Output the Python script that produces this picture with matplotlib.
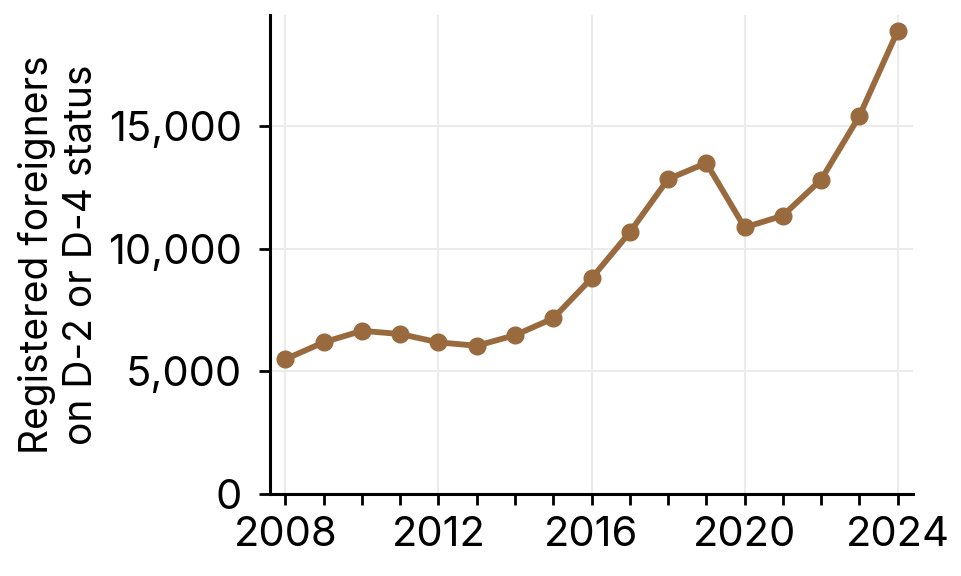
import matplotlib.pyplot as plt
from matplotlib.ticker import FuncFormatter, MultipleLocator

years = list(range(2008, 2025))
foreigners = [5500, 6190, 6660, 6530, 6190, 6050, 6480, 7170, 8800,
              10680, 12850, 13510, 10880, 11360, 12830, 15430, 18900]

x_ticks = [2008, 2012, 2016, 2020, 2024]
y_ticks = [0, 5000, 10000, 15000]

plt.rcParams['font.family'] = ['Inter', 'DejaVu Sans']

fig = plt.figure(figsize=(9.62, 5.76), dpi=100)
ax = fig.add_axes([270/962, 1 - 494/576, (913-270)/962, (494-15)/576])

ax.plot(years, foreigners, color='#996a3d', linewidth=4.2, marker='o',
        markersize=12, zorder=3)

ax.set_xlim(2007.6, 2024.4)
ax.set_ylim(0, 19550)
ax.set_xticks(x_ticks)
ax.xaxis.set_minor_locator(MultipleLocator(1))
ax.set_yticks(y_ticks)
ax.yaxis.set_major_formatter(FuncFormatter(lambda v, p: f"{int(v):,}"))

ax.grid(True, color='#ebebeb', linewidth=1.5, zorder=0)
ax.set_axisbelow(True)

for s in ['top', 'right']:
    ax.spines[s].set_visible(False)
for s in ['left', 'bottom']:
    ax.spines[s].set_linewidth(2.2)

ax.tick_params(axis='both', which='major', labelsize=30, width=2, length=8)
ax.tick_params(axis='y', pad=12)
ax.tick_params(axis='x', pad=8)
ax.tick_params(axis='x', which='minor', width=2, length=8)

ax.set_ylabel("Registered foreigners\non D-2 or D-4 status", fontsize=28,
              linespacing=1.25, labelpad=6)

fig.savefig("out.png", dpi=100)
